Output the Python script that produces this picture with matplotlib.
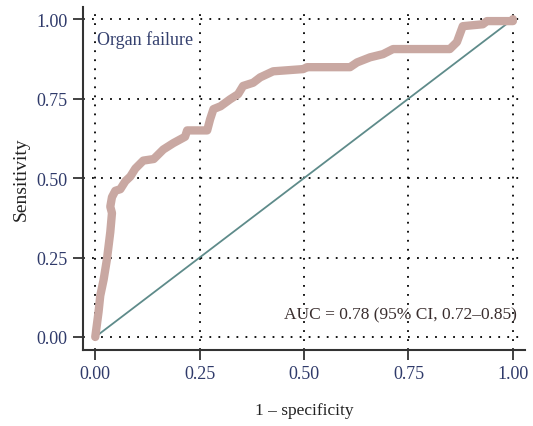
import matplotlib
matplotlib.use("Agg")
import matplotlib.pyplot as plt

# ROC points (1 - specificity, sensitivity)
fpr = [0.0, 0.008, 0.012, 0.02, 0.028, 0.036, 0.04, 0.036, 0.04, 0.048, 0.06,
       0.072, 0.084, 0.096, 0.115, 0.14, 0.163, 0.187, 0.215, 0.22, 0.25,
       0.268, 0.275, 0.283, 0.30, 0.323, 0.342, 0.354, 0.378, 0.395, 0.426,
       0.498, 0.507, 0.61, 0.627, 0.658, 0.689, 0.713, 0.849, 0.866, 0.88,
       0.928, 0.938, 1.0, 1.0]
tpr = [0.0, 0.08, 0.13, 0.18, 0.245, 0.33, 0.39, 0.41, 0.44, 0.46, 0.465,
       0.49, 0.505, 0.53, 0.555, 0.56, 0.59, 0.61, 0.63, 0.65, 0.65,
       0.65, 0.685, 0.717, 0.726, 0.748, 0.764, 0.79, 0.80, 0.817, 0.836,
       0.843, 0.849, 0.849, 0.864, 0.88, 0.89, 0.906, 0.906, 0.928, 0.978,
       0.984, 0.994, 0.994, 1.0]
ticks = [0.0, 0.25, 0.5, 0.75, 1.0]
tick_labels = ["0.00", "0.25", "0.50", "0.75", "1.00"]

plt.rcParams['font.family'] = ['Liberation Serif', 'DejaVu Serif']

fig = plt.figure(figsize=(5.33, 4.27), dpi=100)
ax = fig.add_axes([0.156, 0.178, 0.829, 0.803])

# dotted grid
for t in ticks:
    ax.axvline(t, color="black", lw=1.3, ls=(0, (1, 4)), zorder=1)
    ax.axhline(t, color="black", lw=1.3, ls=(0, (1, 4)), zorder=1)

# reference diagonal
ax.plot([0, 1], [0, 1], color="#5e8b8a", lw=1.3, zorder=2)

# ROC curve: thick band plus thin red line
ax.plot(fpr, tpr, color="#c9a8a2", lw=6, solid_capstyle="round",
        solid_joinstyle="round", zorder=3)
ax.plot(fpr, tpr, color="#e03030", lw=0.6, zorder=2.5)

ax.set_xlim(-0.029, 1.029)
ax.set_ylim(-0.041, 1.038)
ax.set_xticks(ticks)
ax.set_yticks(ticks)
ax.set_xticklabels(tick_labels)
ax.set_yticklabels(tick_labels)
ax.tick_params(axis="both", labelsize=13, labelcolor="#2f3a6a", color="#333333",
               length=7, width=1.3, direction="out", pad=4)

for side in ["top", "right"]:
    ax.spines[side].set_visible(False)
for side in ["left", "bottom"]:
    ax.spines[side].set_color("#333333")
    ax.spines[side].set_linewidth(1.5)

ax.set_xlabel("1 \u2013 specificity", fontsize=12.5, color="#222222", labelpad=14)
ax.set_ylabel("Sensitivity", fontsize=14, color="#222222", labelpad=5)

ax.text(0.003, 0.937, "Organ failure", fontsize=13, color="#34406e",
        ha="left", va="center", zorder=4)
ax.text(1.01, 0.072, "AUC = 0.78 (95% CI, 0.72\u20130.85)", fontsize=12.5,
        color="#3a2e2e", ha="right", va="center", zorder=4)

fig.savefig("out.png", dpi=100)
